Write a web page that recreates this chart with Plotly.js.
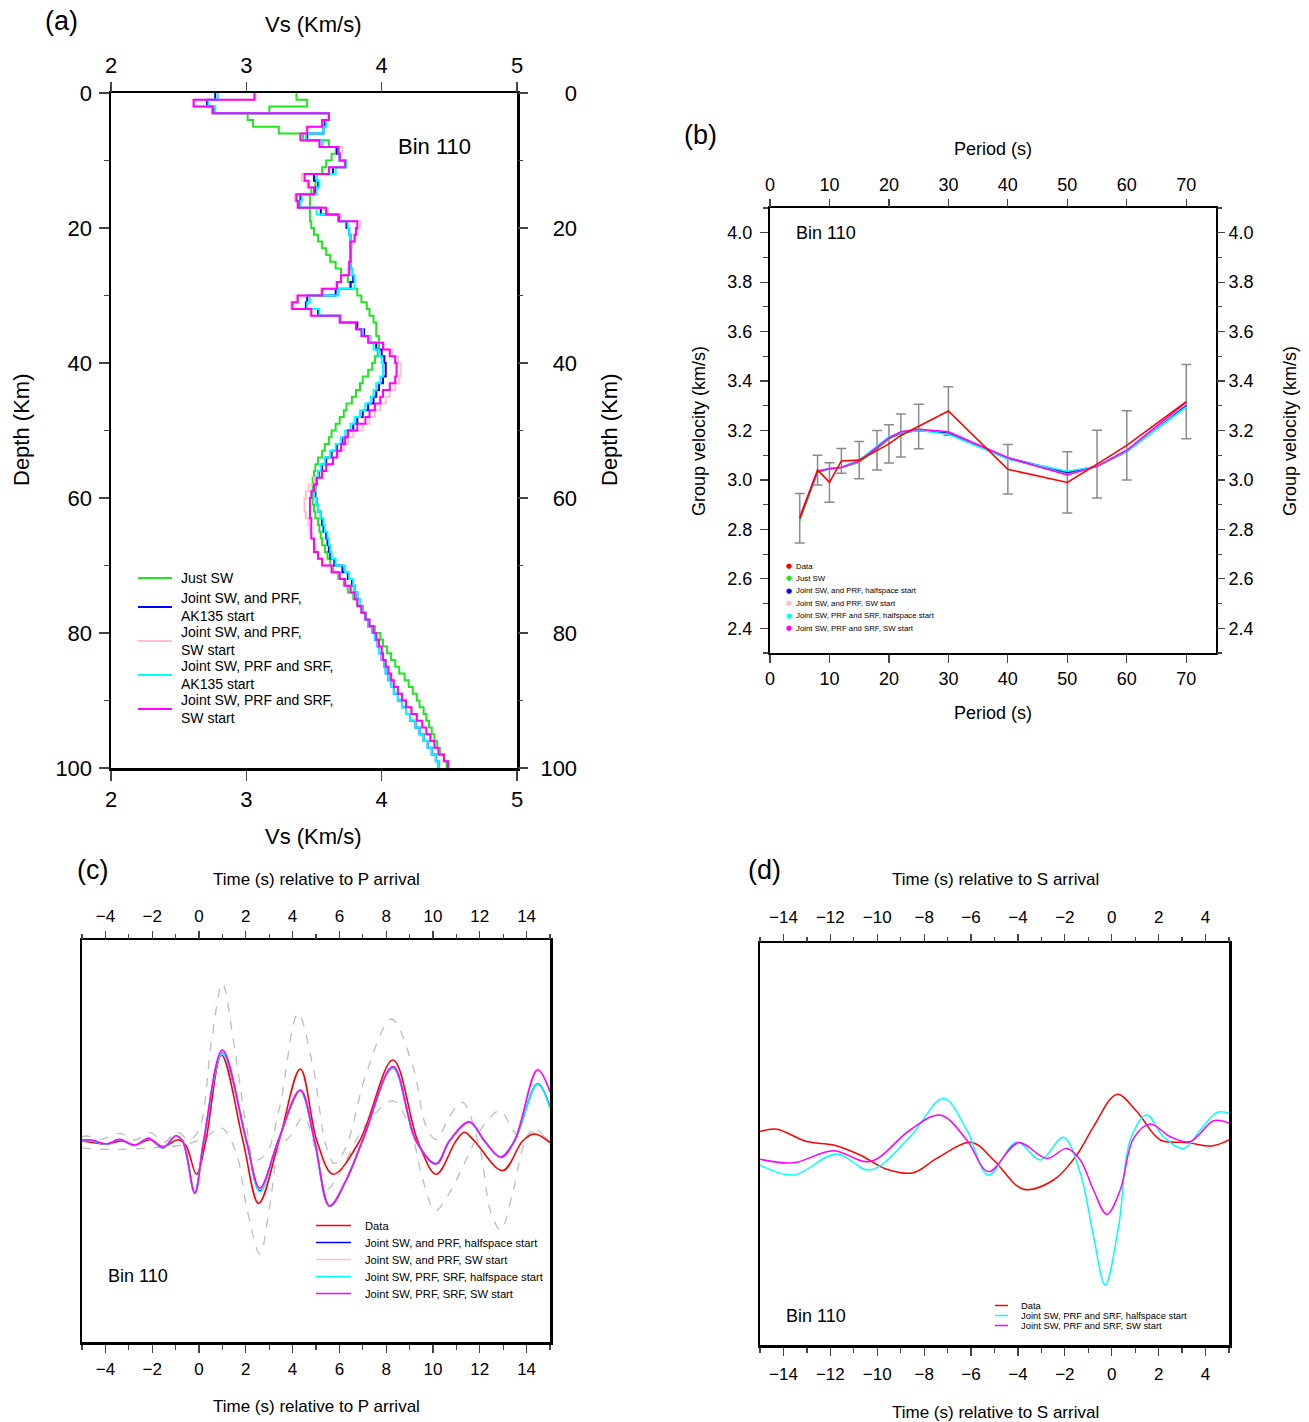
<!DOCTYPE html>
<html><head><meta charset="utf-8">
<script src="https://cdn.plot.ly/plotly-3.0.1.min.js"></script>
<style>html,body{margin:0;padding:0;background:#fff}#chart{width:1309px;height:1422px}</style>
</head><body><div id="chart"></div>
<script>
// ================= DATA =================
// (a) shear-velocity models, layer tops (km) and layer Vs (km/s)
const depthTop = [0,1,2,3,4,5,6,7,8,9,10,11,12,13,14,15,16,17,18,19,20,21,22,23,24,25,26,27,28,29,30,31,32,33,34,35,36,37,38,39,40,41,42,43,44,45,46,47,48,49,50,51,52,53,54,55,56,57,58,59,60,61,62,63,64,65,66,67,68,69,70,71,72,73,74,75,76,77,78,79,80,81,82,83,84,85,86,87,88,89,90,91,92,93,94,95,96,97,98,99,100];
const vsJustSW = [3.37,3.45,3.17,3.01,3.05,3.24,3.42,3.61,3.66,3.63,3.59,3.56,3.52,3.51,3.48,3.47,3.47,3.47,3.47,3.48,3.50,3.53,3.56,3.59,3.62,3.66,3.70,3.75,3.77,3.82,3.85,3.89,3.91,3.94,3.96,3.96,3.98,3.98,3.97,3.95,3.93,3.90,3.86,3.84,3.81,3.78,3.74,3.72,3.69,3.66,3.63,3.61,3.58,3.56,3.53,3.51,3.50,3.49,3.49,3.49,3.49,3.50,3.51,3.53,3.54,3.55,3.56,3.58,3.60,3.62,3.64,3.68,3.72,3.75,3.79,3.82,3.85,3.88,3.90,3.95,3.99,4.01,4.04,4.07,4.10,4.13,4.17,4.20,4.23,4.26,4.28,4.31,4.33,4.35,4.37,4.39,4.41,4.43,4.46,4.48];
const vsPrfAK135 = [2.77,2.71,2.76,3.61,3.58,3.57,3.45,3.56,3.67,3.69,3.73,3.64,3.50,3.53,3.51,3.40,3.39,3.55,3.69,3.74,3.76,3.77,3.77,3.77,3.77,3.77,3.78,3.79,3.77,3.66,3.45,3.44,3.53,3.70,3.82,3.87,3.92,3.96,4.00,4.02,4.03,4.03,4.01,3.98,3.96,3.94,3.90,3.86,3.82,3.79,3.75,3.71,3.67,3.63,3.59,3.56,3.54,3.52,3.51,3.51,3.52,3.53,3.55,3.56,3.57,3.59,3.60,3.61,3.62,3.65,3.71,3.75,3.78,3.80,3.82,3.84,3.86,3.88,3.90,3.93,3.95,3.97,3.98,4.00,4.02,4.03,4.05,4.07,4.09,4.12,4.15,4.18,4.21,4.25,4.28,4.31,4.34,4.37,4.40,4.42];
const vsPrfSW = [3.07,2.62,2.75,3.61,3.56,3.45,3.40,3.55,3.71,3.70,3.73,3.61,3.41,3.45,3.50,3.36,3.38,3.60,3.70,3.84,3.82,3.80,3.78,3.77,3.77,3.76,3.75,3.70,3.66,3.55,3.37,3.33,3.47,3.69,3.81,3.86,3.92,4.02,4.08,4.12,4.14,4.14,4.13,4.10,4.06,4.03,3.99,3.95,3.91,3.86,3.79,3.75,3.72,3.68,3.64,3.59,3.55,3.50,3.46,3.44,3.43,3.43,3.44,3.46,3.47,3.48,3.50,3.51,3.53,3.56,3.63,3.69,3.73,3.77,3.80,3.82,3.85,3.88,3.91,3.94,3.96,3.98,4.00,4.01,4.03,4.05,4.07,4.09,4.12,4.15,4.18,4.22,4.26,4.30,4.33,4.36,4.39,4.42,4.46,4.50];
const vsSrfAK135 = [2.79,2.72,2.77,3.61,3.59,3.57,3.44,3.56,3.68,3.69,3.74,3.66,3.52,3.54,3.52,3.41,3.40,3.52,3.68,3.75,3.76,3.77,3.77,3.77,3.77,3.77,3.78,3.80,3.80,3.68,3.47,3.45,3.54,3.70,3.81,3.86,3.91,3.94,3.98,4.00,4.01,4.01,3.99,3.96,3.94,3.92,3.88,3.84,3.80,3.77,3.73,3.70,3.66,3.62,3.58,3.55,3.53,3.52,3.51,3.50,3.52,3.53,3.55,3.57,3.58,3.60,3.61,3.62,3.63,3.66,3.73,3.76,3.79,3.80,3.82,3.84,3.86,3.88,3.90,3.93,3.95,3.97,3.98,4.00,4.02,4.03,4.05,4.07,4.09,4.12,4.15,4.18,4.21,4.25,4.28,4.31,4.34,4.37,4.40,4.42];
const vsSrfSW = [3.06,2.61,2.75,3.61,3.56,3.45,3.40,3.54,3.68,3.69,3.73,3.61,3.43,3.46,3.50,3.37,3.38,3.59,3.68,3.82,3.81,3.80,3.77,3.77,3.77,3.76,3.76,3.70,3.67,3.56,3.38,3.34,3.48,3.69,3.81,3.85,3.90,4.01,4.06,4.10,4.11,4.11,4.10,4.06,4.01,3.99,3.95,3.91,3.88,3.82,3.75,3.73,3.70,3.67,3.64,3.59,3.56,3.52,3.50,3.48,3.47,3.47,3.47,3.48,3.48,3.48,3.50,3.50,3.53,3.56,3.63,3.69,3.73,3.77,3.80,3.82,3.85,3.88,3.91,3.94,3.96,3.98,4.00,4.01,4.03,4.05,4.07,4.09,4.12,4.15,4.18,4.22,4.26,4.30,4.33,4.36,4.39,4.42,4.46,4.49];
const legendA = ['Just SW', 'Joint SW, and PRF,|AK135 start', 'Joint SW, and PRF,|SW start', 'Joint SW, PRF and SRF,|AK135 start', 'Joint SW, PRF and SRF,|SW start'];
const depthTickVals = [0, 20, 40, 60, 80, 100];
const depthTickTextRight = ['\u2007\u20070', '\u200720', '\u200740', '\u200760', '\u200780', '100'];

// (b) group-velocity dispersion
const periods = [5, 8, 10, 12, 15, 18, 20, 22, 25, 30, 40, 50, 55, 60, 70];
const uData   = [2.845, 3.04, 2.99, 3.077, 3.08, 3.12, 3.146, 3.18, 3.216, 3.279, 3.043, 2.99, 3.064, 3.14, 3.317];
const uErr    = [0.10, 0.06, 0.08, 0.05, 0.075, 0.08, 0.077, 0.087, 0.09, 0.098, 0.10, 0.124, 0.137, 0.14, 0.15];
const uJustSW = [2.835, 3.03, 3.045, 3.05, 3.07, 3.125, 3.165, 3.19, 3.205, 3.19, 3.085, 3.025, 3.055, 3.12, 3.305];
const uPrfHalf = [2.845, 3.035, 3.045, 3.05, 3.08, 3.13, 3.17, 3.19, 3.20, 3.19, 3.09, 3.03, 3.055, 3.115, 3.30];
const uPrfSW  = [2.85, 3.035, 3.045, 3.05, 3.075, 3.13, 3.17, 3.195, 3.205, 3.195, 3.09, 3.02, 3.055, 3.12, 3.31];
const uSrfHalf = [2.845, 3.035, 3.045, 3.05, 3.08, 3.135, 3.175, 3.19, 3.20, 3.185, 3.085, 3.035, 3.055, 3.115, 3.295];
const uSrfSW  = [2.85, 3.035, 3.045, 3.05, 3.075, 3.13, 3.17, 3.195, 3.205, 3.195, 3.09, 3.02, 3.055, 3.12, 3.315];
const legendB = ['Data', 'Just SW', 'Joint SW, and PRF, halfspace start', 'Joint SW, and PRF, SW start', 'Joint SW, PRF and SRF, halfspace start', 'Joint SW, PRF and SRF, SW start'];

// (c) P receiver functions
const tPData = [-5, -4.5, -3.95, -3.3, -2.74, -2.1, -1.53, -0.89, -0.55, -0.11, 0.29, 0.96, 1.88, 2.55, 3.42, 4.33, 5.04, 5.73, 6.86, 8.29, 9.35, 10.14, 10.98, 11.34, 11.77, 12.98, 13.83, 14.33, 15];
const aPData = [0.0, -0.004, -0.008, 0.0, -0.01, 0.003, -0.014, 0.003, -0.012, -0.083, 0.0, 0.215, 0.0, -0.156, 0.0, 0.18, 0.0, -0.083, 0.0, 0.2025, 0.0, -0.083, 0.0, 0.022, 0.0, -0.074, 0.0, 0.0175, -0.004];
const tPModel = [-5, -4.6, -3.95, -3.4, -2.74, -2.16, -1.53, -1.0, -0.7, -0.18, 0.2, 1.0, 2.03, 2.6, 3.38, 4.33, 4.94, 5.58, 6.29, 7.0, 8.29, 9.28, 10.14, 10.7, 11.56, 12.2, 12.9, 13.48, 14.47, 15];
const aPSrfSW  = [0.0025, 0.0025, -0.0075, 0.004, -0.01, 0.007, -0.016, 0.013, 0.0, -0.131, 0.0, 0.2275, 0.0, -0.118, 0.0, 0.1275, 0.0, -0.1625, -0.0975, 0.0025, 0.186, 0.0, -0.0575, 0.0, 0.048, 0.0, -0.041, 0.0, 0.1775, 0.123];
const aPPrfSW  = [0.0025, 0.0025, -0.0075, 0.004, -0.01, 0.007, -0.016, 0.013, 0.0, -0.13, 0.0, 0.226, 0.0, -0.12, 0.0, 0.127, 0.0, -0.162, -0.097, 0.0025, 0.185, 0.0, -0.057, 0.0, 0.048, 0.0, -0.041, 0.0, 0.18, 0.125];
const aPSrfHalf = [0.0, 0.0, -0.008, 0.003, -0.011, 0.006, -0.017, 0.012, 0.0, -0.128, 0.0, 0.219, 0.0, -0.127, 0.0, 0.126, 0.0, -0.162, -0.097, 0.0025, 0.1817, 0.0, -0.057, 0.0, 0.046, 0.0, -0.04, 0.0, 0.1425, 0.082];
const aPPrfHalf = [0.0, 0.0, -0.008, 0.003, -0.011, 0.006, -0.017, 0.012, 0.0, -0.129, 0.0, 0.22, 0.0, -0.125, 0.0, 0.126, 0.0, -0.163, -0.098, 0.0025, 0.183, 0.0, -0.057, 0.0, 0.047, 0.0, -0.04, 0.0, 0.143, 0.085];
const tPBoundA = [-5, -4.8, -4.23, -3.38, -2.74, -2.1, -1.46, -0.96, -0.39, 0.04, 0.54, 1.0, 1.53, 2.03, 2.38, 2.88, 3.45, 4.23, 4.87, 5.44, 5.8, 6.29, 7.15, 8.22, 9.14, 9.71, 10.14, 10.7, 11.25, 11.98, 12.48, 12.9, 13.4, 13.97, 14.33, 15];
const aPBoundA = [0.01, 0.0125, 0.004, 0.019, 0.0025, 0.021, -0.002, 0.023, 0.0025, 0.036, 0.2525, 0.394, 0.2275, 0.036, -0.0475, -0.031, 0.086, 0.319, 0.186, -0.014, -0.056, -0.014, 0.169, 0.305, 0.186, 0.036, 0.004, 0.061, 0.097, -0.014, -0.18, -0.2225, -0.13, 0.0025, 0.023, 0.0];
const tPBoundB = [-5, -3.66, -2.24, -0.96, -0.39, 0.32, 0.96, 1.6, 2.03, 2.6, 3.02, 3.45, 3.88, 4.47, 5.02, 5.44, 6.01, 6.72, 7.29, 8.29, 9.0, 9.57, 10.1, 10.7, 11.41, 12.13, 12.87, 13.41, 13.83, 14.33, 15];
const aPBoundB = [-0.018, -0.021, -0.018, -0.0125, -0.006, 0.011, 0.033, -0.031, -0.164, -0.2825, -0.164, -0.014, 0.011, 0.059, -0.031, -0.121, -0.081, 0.0025, 0.0525, 0.10, 0.036, -0.0975, -0.174, -0.13, -0.0475, 0.036, 0.076, 0.0275, 0.0025, 0.032, -0.01];
const legendC = ['Data', 'Joint SW, and PRF, halfspace start', 'Joint SW, and PRF, SW start', 'Joint SW, PRF, SRF, halfspace start', 'Joint SW, PRF, SRF, SW start'];

// (d) S receiver functions
const tSData = [-15, -14.29, -13.0, -11.87, -10.73, -9.6, -8.46, -7.46, -5.97, -5.04, -3.76, -2.48, -1.49, -0.78, 0.22, 1.07, 2.07, 3.21, 4.27, 5];
const aSData = [0.031, 0.037, 0.006, -0.0025, -0.0275, -0.063, -0.072, -0.036, 0.004, -0.04, -0.113, -0.09, -0.0275, 0.043, 0.124, 0.081, 0.01, 0.004, -0.005, 0.01];
const tSHalf = [-15, -13.58, -11.73, -10.31, -8.6, -7.18, -6.18, -5.26, -4.05, -3.05, -2.06, -1.34, -0.78, -0.28, 0.29, 0.79, 1.5, 2.21, 3.07, 3.78, 4.49, 5];
const aSHalf = [-0.0525, -0.0775, -0.025, -0.065, 0.018, 0.114, 0.035, -0.0775, 0.005, -0.04, 0.0167, -0.073, -0.23, -0.3525, -0.207, 0.01, 0.0725, 0.018, -0.011, 0.035, 0.079, 0.077];
const tSSW = [-15, -13.58, -11.87, -10.31, -8.6, -7.32, -6.18, -5.26, -3.98, -2.77, -1.91, -1.34, -0.78, -0.21, 0.36, 0.93, 1.64, 2.5, 3.35, 4.35, 5];
const aSSW = [-0.038, -0.047, -0.0167, -0.044, 0.035, 0.0725, 0.01, -0.069, 0.003, -0.036, -0.011, -0.04, -0.115, -0.176, -0.115, 0.014, 0.05, 0.018, 0.006, 0.058, 0.052];
const legendD = ['Data', 'Joint SW, PRF and SRF, halfspace start', 'Joint SW, PRF and SRF, SW start'];

// ================= STYLE / LAYOUT =================
const W = 1309, H = 1422;
const FONT = 'Liberation Sans, Arial, Helvetica, sans-serif';
const C = {green:'#1fe61f', blue:'#0000ff', pink:'#ffc0cb', cyan:'#00ffff', magenta:'#ff00ff', red:'#ff0000'};
const X = p => p / W;
const Y = p => 1 - p / H;

function mainAxis(o) {
  return Object.assign({showgrid:false, zeroline:false, showline:true, linecolor:'#000', linewidth:2.5, mirror:true,
    ticks:'outside', ticklen:10, tickwidth:1.2, tickcolor:'#444', fixedrange:true,
    tickfont:{family:FONT, size:22, color:'#000'}}, o);
}
function overAxis(o) {
  return Object.assign({showgrid:false, zeroline:false, showline:false,
    ticks:'outside', ticklen:10, tickwidth:1.2, tickcolor:'#444', fixedrange:true,
    tickfont:{family:FONT, size:22, color:'#000'}}, o);
}

const traces = [];
// ---- (a)
const lastVal = a => a.concat([a[a.length - 1]]);
[[vsJustSW, C.green], [vsPrfAK135, C.blue], [vsPrfSW, C.pink], [vsSrfAK135, C.cyan], [vsSrfSW, C.magenta]].forEach((m, i) => {
  traces.push({x: lastVal(m[0]), y: depthTop, xaxis:'x', yaxis:'y', mode:'lines', name: legendA[i].replace('|',' '),
    line:{color:m[1], width:2, shape:'vh'}, showlegend:false, hoverinfo:'skip'});
});
traces.push({x:[], y:[], xaxis:'x2', yaxis:'y', showlegend:false, hoverinfo:'skip'});
traces.push({x:[], y:[], xaxis:'x', yaxis:'y2', showlegend:false, hoverinfo:'skip'});

// ---- (b)
traces.push({x: periods, y: uData, xaxis:'x3', yaxis:'y3', mode:'lines', name:'Data', line:{color:'rgba(0,0,0,0)', width:1},
  error_y:{type:'data', array:uErr, visible:true, color:'#8a8a8a', thickness:1.5, width:5}, showlegend:false, hoverinfo:'skip'});
[[uJustSW, C.green], [uPrfHalf, C.blue], [uPrfSW, C.pink], [uSrfHalf, C.cyan], [uSrfSW, C.magenta]].forEach((m, i) => {
  traces.push({x: periods, y: m[0], xaxis:'x3', yaxis:'y3', mode:'lines', name: legendB[i+1],
    line:{color:m[1], width:1.6}, showlegend:false, hoverinfo:'skip'});
});
traces.push({x: periods, y: uData, xaxis:'x3', yaxis:'y3', mode:'lines', name:'Data', line:{color:C.red, width:1.6}, showlegend:false, hoverinfo:'skip'});
traces.push({x:[], y:[], xaxis:'x4', yaxis:'y3', showlegend:false, hoverinfo:'skip'});
traces.push({x:[], y:[], xaxis:'x3', yaxis:'y4', showlegend:false, hoverinfo:'skip'});

// ---- (c)
[[tPBoundA, aPBoundA], [tPBoundB, aPBoundB]].forEach(b => {
  traces.push({x:b[0], y:b[1], xaxis:'x5', yaxis:'y5', mode:'lines', line:{color:'#bdbdbd', width:1.3, dash:'dash', shape:'spline', smoothing:1},
    showlegend:false, hoverinfo:'skip'});
});
traces.push({x:tPData, y:aPData, xaxis:'x5', yaxis:'y5', mode:'lines', name:legendC[0], line:{color:C.red, width:1.6, shape:'spline', smoothing:1}, showlegend:false, hoverinfo:'skip'});
[[aPPrfHalf, C.blue], [aPPrfSW, C.pink], [aPSrfHalf, C.cyan], [aPSrfSW, C.magenta]].forEach((m, i) => {
  traces.push({x:tPModel, y:m[0], xaxis:'x5', yaxis:'y5', mode:'lines', name:legendC[i+1], line:{color:m[1], width:1.6, shape:'spline', smoothing:1}, showlegend:false, hoverinfo:'skip'});
});
traces.push({x:[], y:[], xaxis:'x6', yaxis:'y5', showlegend:false, hoverinfo:'skip'});

// ---- (d)
traces.push({x:tSData, y:aSData, xaxis:'x7', yaxis:'y7', mode:'lines', name:legendD[0], line:{color:C.red, width:1.5, shape:'spline', smoothing:1}, showlegend:false, hoverinfo:'skip'});
traces.push({x:tSHalf, y:aSHalf, xaxis:'x7', yaxis:'y7', mode:'lines', name:legendD[1], line:{color:C.cyan, width:1.5, shape:'spline', smoothing:1}, showlegend:false, hoverinfo:'skip'});
traces.push({x:tSSW, y:aSSW, xaxis:'x7', yaxis:'y7', mode:'lines', name:legendD[2], line:{color:C.magenta, width:1.5, shape:'spline', smoothing:1}, showlegend:false, hoverinfo:'skip'});
traces.push({x:[], y:[], xaxis:'x8', yaxis:'y7', showlegend:false, hoverinfo:'skip'});

const f22 = {family:FONT, size:22, color:'#000'};
const f18 = {family:FONT, size:18, color:'#000'};
const f17 = {family:FONT, size:17, color:'#000'};
const minorSty = (d, len) => ({dtick:d, ticks:'outside', ticklen:len, tickwidth:1.2, tickcolor:'#444', showgrid:false});

const layout = {
  width:W, height:H, autosize:false, margin:{l:0, r:0, t:0, b:0},
  paper_bgcolor:'#fff', plot_bgcolor:'rgba(0,0,0,0)', showlegend:false,
  // (a)
  xaxis: mainAxis({domain:[X(111), X(517)], anchor:'y', range:[2,5], tick0:2, dtick:1, ticklabelstandoff:0}),
  yaxis: mainAxis({domain:[Y(768), Y(93)], anchor:'x', range:[100,0], tickmode:'array', tickvals:depthTickVals, ticklabelstandoff:2, minor:minorSty(10,5)}),
  xaxis2: overAxis({overlaying:'x', anchor:'y', side:'top', range:[2,5], tick0:2, dtick:1, ticklabelstandoff:0}),
  yaxis2: overAxis({overlaying:'y', anchor:'x', side:'right', range:[100,0], tickmode:'array', tickvals:depthTickVals, ticktext:depthTickTextRight, ticklabelstandoff:8, minor:minorSty(10,5)}),
  // (b)
  xaxis3: mainAxis({domain:[X(770), X(1216)], anchor:'y3', range:[0,75], tick0:0, dtick:10, linewidth:2, ticklen:8, tickfont:f18, ticklabelstandoff:0}),
  yaxis3: mainAxis({domain:[Y(653), Y(208)], anchor:'x3', range:[2.3,4.1], tick0:0, dtick:0.2, tickformat:'.1f', linewidth:2, ticklen:8, tickfont:f18, ticklabelstandoff:4, minor:minorSty(0.1,5)}),
  xaxis4: overAxis({overlaying:'x3', anchor:'y3', side:'top', range:[0,75], tick0:0, dtick:10, ticklen:8, tickfont:f18, ticklabelstandoff:1}),
  yaxis4: overAxis({overlaying:'y3', anchor:'x3', side:'right', range:[2.3,4.1], tick0:0, dtick:0.2, tickformat:'.1f', ticklen:8, tickfont:f18, ticklabelstandoff:0, minor:minorSty(0.1,5)}),
  // (c)
  xaxis5: mainAxis({domain:[X(82), X(550)], anchor:'y5', range:[-5,15], tick0:0, dtick:2, ticklen:8, tickfont:f17, ticklabelstandoff:2, minor:minorSty(1,5)}),
  yaxis5: mainAxis({domain:[Y(1342), Y(940)], anchor:'x5', range:[-0.5025,0.5025], ticks:'', showticklabels:false}),
  xaxis6: overAxis({overlaying:'x5', anchor:'y5', side:'top', range:[-5,15], tick0:0, dtick:2, ticklen:8, tickfont:f17, ticklabelstandoff:2, minor:minorSty(1,5)}),
  // (d)
  xaxis7: mainAxis({domain:[X(760), X(1229)], anchor:'y7', range:[-15,5], tick0:0, dtick:2, ticklen:8, tickfont:f17, ticklabelstandoff:4, minor:minorSty(1,5)}),
  yaxis7: mainAxis({domain:[Y(1345), Y(943)], anchor:'x7', range:[-0.5025,0.5025], ticks:'', showticklabels:false}),
  xaxis8: overAxis({overlaying:'x7', anchor:'y7', side:'top', range:[-15,5], tick0:0, dtick:2, ticklen:8, tickfont:f17, ticklabelstandoff:4, minor:minorSty(1,5)}),
  annotations: [], shapes: []
};

const ann = (text, x, y, font, o) => layout.annotations.push(Object.assign({text, x:X(x), y:Y(y), xref:'paper', yref:'paper',
  showarrow:false, xanchor:'center', yanchor:'middle', font}, o || {}));

// panel labels and titles
ann('(a)', 62, 21, {family:FONT, size:27, color:'#000'});
ann('(b)', 700, 135, {family:FONT, size:27, color:'#000'});
ann('(c)', 92, 870, {family:FONT, size:27, color:'#000'});
ann('(d)', 764, 870, {family:FONT, size:27, color:'#000'});
ann('Vs (Km/s)', 313, 24, f22);
ann('Vs (Km/s)', 313, 836, f22);
ann('Depth (Km)', 21, 430, f22, {textangle:-90});
ann('Depth (Km)', 609, 430, f22, {textangle:-90});
ann('Bin 110', 434, 147, f22);
ann('Period (s)', 993, 149, f18);
ann('Period (s)', 993, 713, f18);
ann('Group velocity (km/s)', 699, 431, f18, {textangle:-90});
ann('Group velocity (km/s)', 1290, 431, f18, {textangle:-90});
ann('Bin 110', 826, 233, f18);
ann('Time (s) relative to P arrival', 316, 879, f17);
ann('Time (s) relative to P arrival', 316, 1406, f17);
ann('Bin 110', 138, 1276, f18);
ann('Time (s) relative to S arrival', 995, 879, f17);
ann('Time (s) relative to S arrival', 995, 1412, f17);
ann('Bin 110', 816, 1316, f18);

const seg = (x0, x1, y, color, w) => layout.shapes.push({type:'line', xref:'paper', yref:'paper', x0:X(x0), x1:X(x1), y0:Y(y), y1:Y(y), line:{color, width:w}});

// legend (a): each entry is one text block (two-line entries wrapped)
const colA = [C.green, C.blue, C.pink, C.cyan, C.magenta];
const legYA = [578, 607, 641, 675, 709];
legendA.forEach((t, i) => {
  seg(138, 172, legYA[i], colA[i], 2);
  ann(t.split('|').join('<br>'), 179, legYA[i], {family:FONT, size:14, color:'#000'}, {xanchor:'left', align:'left'});
});
// legend (b)
const colB = [C.red, C.green, C.blue, C.pink, C.cyan, C.magenta];
legendB.forEach((t, i) => {
  const y = 566 + i * 12.4;
  ann('\u25CF', 789, y, {family:'DejaVu Sans', size:7, color:colB[i]});
  ann(t, 794, y, {family:FONT, size:7.8, color:'#000'}, {xanchor:'left'});
});
// legend (c)
const colC = [C.red, C.blue, C.pink, C.cyan, C.magenta];
legendC.forEach((t, i) => {
  const y = 1225.5 + i * 17;
  seg(316, 351, y, colC[i], 1.6);
  ann(t, 363, y, {family:FONT, size:11.2, color:'#000'}, {xanchor:'left'});
});
// legend (d)
const colD = [C.red, C.cyan, C.magenta];
legendD.forEach((t, i) => {
  const y = 1305.5 + i * 10;
  seg(995, 1008, y, colD[i], 1.5);
  ann(t, 1019, y, {family:FONT, size:9.4, color:'#000'}, {xanchor:'left'});
});

Plotly.newPlot('chart', traces, layout, {displayModeBar:false, staticPlot:true});
</script>
</body></html>
